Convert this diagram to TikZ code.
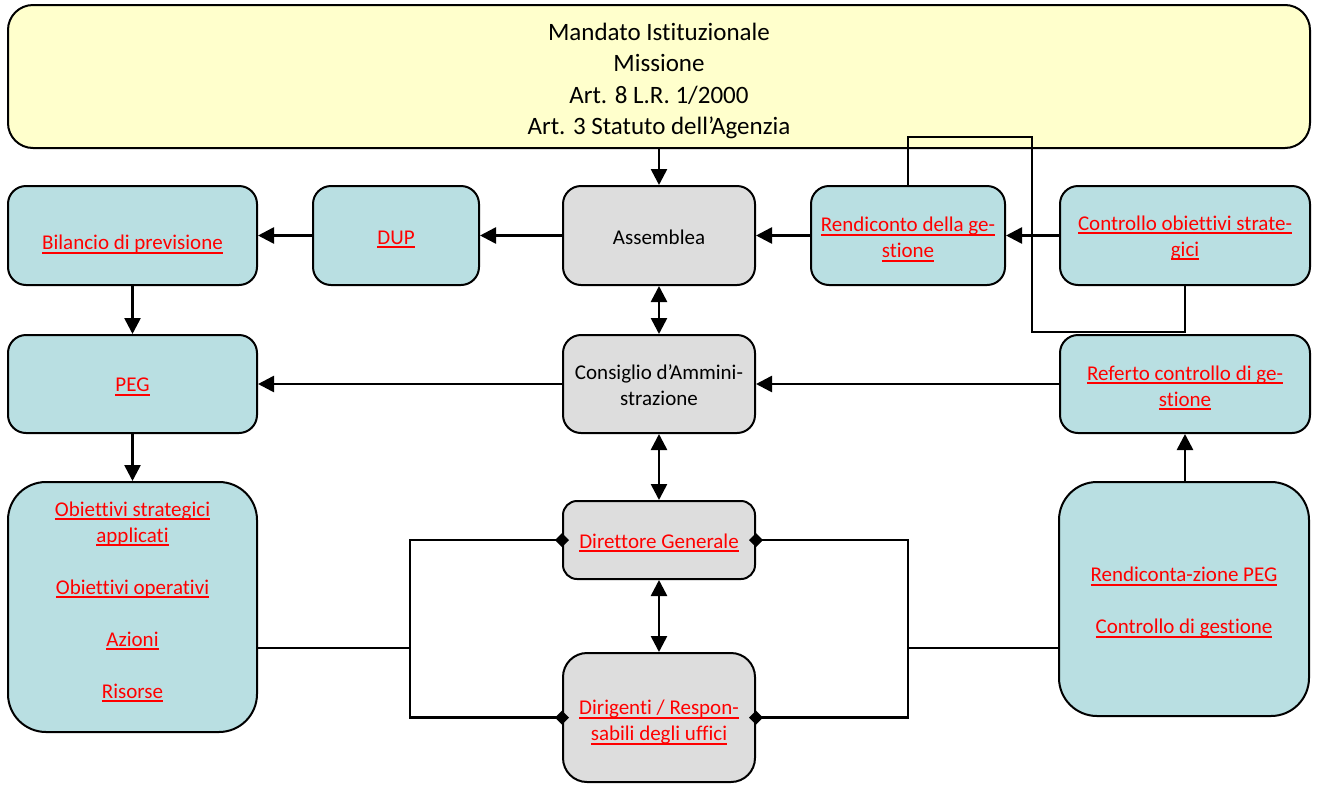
\documentclass[tikz,border=0pt]{standalone}
\usepackage{fontspec}
\setmainfont{Carlito}[Ligatures=NoCommon]
\usetikzlibrary{arrows.meta}
\definecolor{tealbox}{RGB}{185,223,226}
\definecolor{graybox}{RGB}{221,221,221}
\definecolor{yellbox}{RGB}{255,255,204}
\definecolor{redtxt}{RGB}{255,0,0}
\newcommand{\rl}[1]{{\color{redtxt}\setbox0=\hbox{#1}\rlap{\rule[-3.8pt]{\wd0}{1.8pt}}\box0}}
\begin{document}
\begin{tikzpicture}[x=1pt,y=-1pt,
  box/.style={draw, line width=2pt, rounded corners=18pt, inner sep=0pt},
  tealb/.style={box, fill=tealbox},
  grayb/.style={box, fill=graybox},
  txt/.style={align=center, inner sep=0pt, font=\fontsize{21}{26}\selectfont},
  conn/.style={line width=2.6pt, -{Triangle[length=16pt,width=16pt]}},
  dconn/.style={line width=2.6pt, {Triangle[length=16pt,width=16pt]}-{Triangle[length=16pt,width=16pt]}},
  plain/.style={line width=2.6pt},
  dia/.style={line width=2.6pt, -{Diamond[length=14pt,width=14pt]}, shorten >=-7pt}
]
\useasboundingbox (0,0) rectangle (1317,785);
% boxes
\node[box, fill=yellbox, rounded corners=25pt, minimum width=1302pt, minimum height=143pt] (mandato) at (659,76.5) {};
\node[tealb, minimum width=249pt, minimum height=99pt] (bilancio) at (132.5,235.5) {};
\node[tealb, minimum width=166pt, minimum height=99pt] (dup) at (396,235.5) {};
\node[grayb, minimum width=192pt, minimum height=99pt] (assemblea) at (659,235.5) {};
\node[tealb, minimum width=194pt, minimum height=99pt] (rendiconto) at (908,235.5) {};
\node[tealb, minimum width=250pt, minimum height=99pt] (controllo) at (1185,235.5) {};
\node[tealb, minimum width=249pt, minimum height=98pt] (peg) at (132.5,384) {};
\node[grayb, minimum width=192pt, minimum height=98pt] (consiglio) at (659,384) {};
\node[tealb, minimum width=250pt, minimum height=98pt] (referto) at (1185,384) {};
\node[tealb, rounded corners=38pt, minimum width=249pt, minimum height=250pt] (obiettivi) at (132.5,607) {};
\node[grayb, rounded corners=14pt, minimum width=192pt, minimum height=78pt] (direttore) at (659,540) {};
\node[grayb, rounded corners=24pt, minimum width=192pt, minimum height=129pt] (dirigenti) at (659,717.5) {};
\node[tealb, rounded corners=38pt, minimum width=250pt, minimum height=234pt] (rendicontaz) at (1184,599) {};
% texts
\node[txt, font=\fontsize{25}{31.5}\selectfont] (mandatoT) at ([yshift=-4.5pt]mandato.center)
  {Mandato Istituzionale\\Missione\\Art. 8 L.R. 1/2000\\Art. 3 Statuto dell’Agenzia};
\node[txt] (bilancioT) at ([yshift=-9pt]bilancio.center) {\rl{Bilancio di previsione}};
\node[txt] (dupT) at ([yshift=-4pt]dup.center) {\rl{DUP}};
\node[txt] (assembleaT) at ([yshift=-2pt]assemblea.center) {Assemblea};
\node[txt] (rendicontoT) at ([yshift=-4pt]rendiconto.center) {\rl{Rendiconto della ge-}\\\rl{stione}};
\node[txt] (controlloT) at ([yshift=-2.5pt]controllo.center) {\rl{Controllo obiettivi strate-}\\\rl{gici}};
\node[txt] (pegT) at ([yshift=-3pt]peg.center) {\rl{PEG}};
\node[txt] (consiglioT) at ([yshift=-1pt]consiglio.center) {Consiglio d’Ammini-\\strazione};
\node[txt] (refertoT) at ([yshift=-4pt]referto.center) {\rl{Referto controllo di ge-}\\\rl{stione}};
\node[txt] (obiettiviT) at ([yshift=5pt]obiettivi.center)
  {\rl{Obiettivi strategici}\\\rl{applicati}\\[26pt]\rl{Obiettivi operativi}\\[26pt]\rl{Azioni}\\[26pt]\rl{Risorse}};
\node[txt] (direttoreT) at ([yshift=-3pt]direttore.center) {\rl{Direttore Generale}};
\node[txt] (dirigentiT) at ([yshift=-5pt]dirigenti.center) {\rl{Dirigenti / Respon-}\\\rl{sabili degli uffici}};
\node[txt] (rendicontazT) at ([yshift=-3.5pt]rendicontaz.center)
  {\rl{Rendiconta-zione PEG}\\[26pt]\rl{Controllo di gestione}};
% helper coordinates
\coordinate (jl) at (410,648);
\coordinate (jr) at (908,648);
\coordinate (la) at (908,137);
\coordinate (lb) at (1032,137);
\coordinate (lc) at (1032,332);
% connectors
\draw[conn] (mandato) -- (assemblea);
\draw[conn] (dup) -- (bilancio);
\draw[conn] (assemblea) -- (dup);
\draw[conn] (rendiconto) -- (assemblea);
\draw[conn] (controllo) -- (rendiconto);
\draw[conn] (bilancio) -- (peg);
\draw[conn] (peg) -- (obiettivi);
\draw[dconn] (assemblea) -- (consiglio);
\draw[conn] (consiglio) -- (peg);
\draw[conn] (referto) -- (consiglio);
\draw[dconn] (consiglio) -- (direttore);
\draw[dconn] (direttore) -- (dirigenti);
\draw[conn] (rendicontaz.north -| referto.south) -- (referto.south);
\draw[plain] (rendiconto.north) -- (la) -- (lb) -- (lc) -| (controllo.south);
\draw[plain] (obiettivi.east |- jl) -- (jl);
\draw[dia] (jl) |- (direttore.west);
\draw[dia] (jl) |- (dirigenti.west);
\draw[plain] (rendicontaz.west |- jr) -- (jr);
\draw[dia] (jr) |- (direttore.east);
\draw[dia] (jr) |- (dirigenti.east);
\end{tikzpicture}
\end{document}
